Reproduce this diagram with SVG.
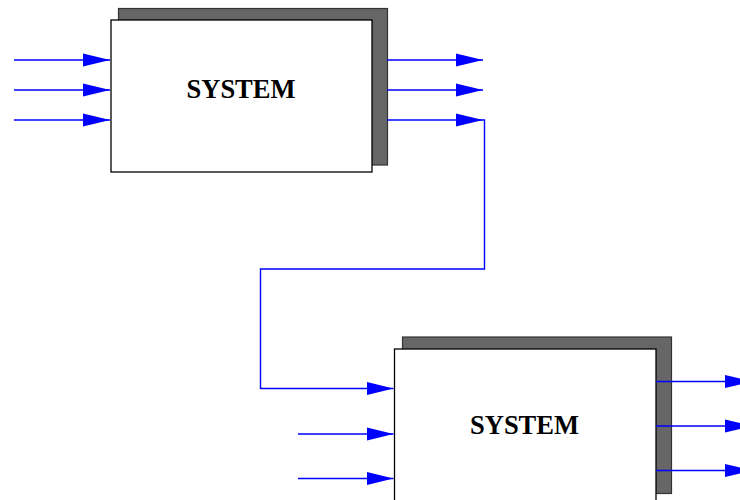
<svg xmlns="http://www.w3.org/2000/svg" width="740" height="500" viewBox="0 0 740 500">
<style>
.shadow{fill:#666666;stroke:#333333;stroke-width:1.2}
.box{fill:#ffffff;stroke:#000000;stroke-width:1.3}
.lbl{font-family:"Liberation Serif","Times New Roman",serif;font-weight:bold;font-size:26.5px;fill:#000000;text-anchor:middle}
.wire{fill:none;stroke:#0000ff;stroke-width:1.4}
</style>
<defs>
<marker id="ah" markerUnits="userSpaceOnUse" markerWidth="28" markerHeight="14" refX="27" refY="7" orient="auto">
<path d="M0,0.5 L27,7 L0,13.5 Z" fill="#0000ff"/>
</marker>
</defs>
<g id="system1">
<rect class="shadow" x="118.5" y="8.5" width="269" height="156.5"/>
<rect class="box" x="111" y="20" width="261" height="152"/>
<text class="lbl" x="241" y="98">SYSTEM</text>
</g>
<g id="system2">
<rect class="shadow" x="402.5" y="337" width="269" height="156.5"/>
<rect class="box" x="394.5" y="349" width="261.5" height="152"/>
<text class="lbl" x="524.5" y="434">SYSTEM</text>
</g>
<g id="connectors">
<line class="wire" x1="14" y1="60" x2="110" y2="60" marker-end="url(#ah)"/>
<line class="wire" x1="14" y1="90" x2="110" y2="90" marker-end="url(#ah)"/>
<line class="wire" x1="14" y1="120" x2="110" y2="120" marker-end="url(#ah)"/>
<line class="wire" x1="387" y1="60" x2="483" y2="60" marker-end="url(#ah)"/>
<line class="wire" x1="387" y1="90" x2="483" y2="90" marker-end="url(#ah)"/>
<line class="wire" x1="387" y1="120" x2="483" y2="120" marker-end="url(#ah)"/>
<polyline class="wire" points="483,120 484.5,120 484.5,269 260.5,269 260.5,388.5 393.5,388.5" marker-end="url(#ah)"/>
<line class="wire" x1="298" y1="434" x2="393.5" y2="434" marker-end="url(#ah)"/>
<line class="wire" x1="298" y1="478.5" x2="393.5" y2="478.5" marker-end="url(#ah)"/>
<line class="wire" x1="656" y1="381.5" x2="752" y2="381.5" marker-end="url(#ah)"/>
<line class="wire" x1="656" y1="426" x2="752" y2="426" marker-end="url(#ah)"/>
<line class="wire" x1="656" y1="470.5" x2="752" y2="470.5" marker-end="url(#ah)"/>
</g>
</svg>
